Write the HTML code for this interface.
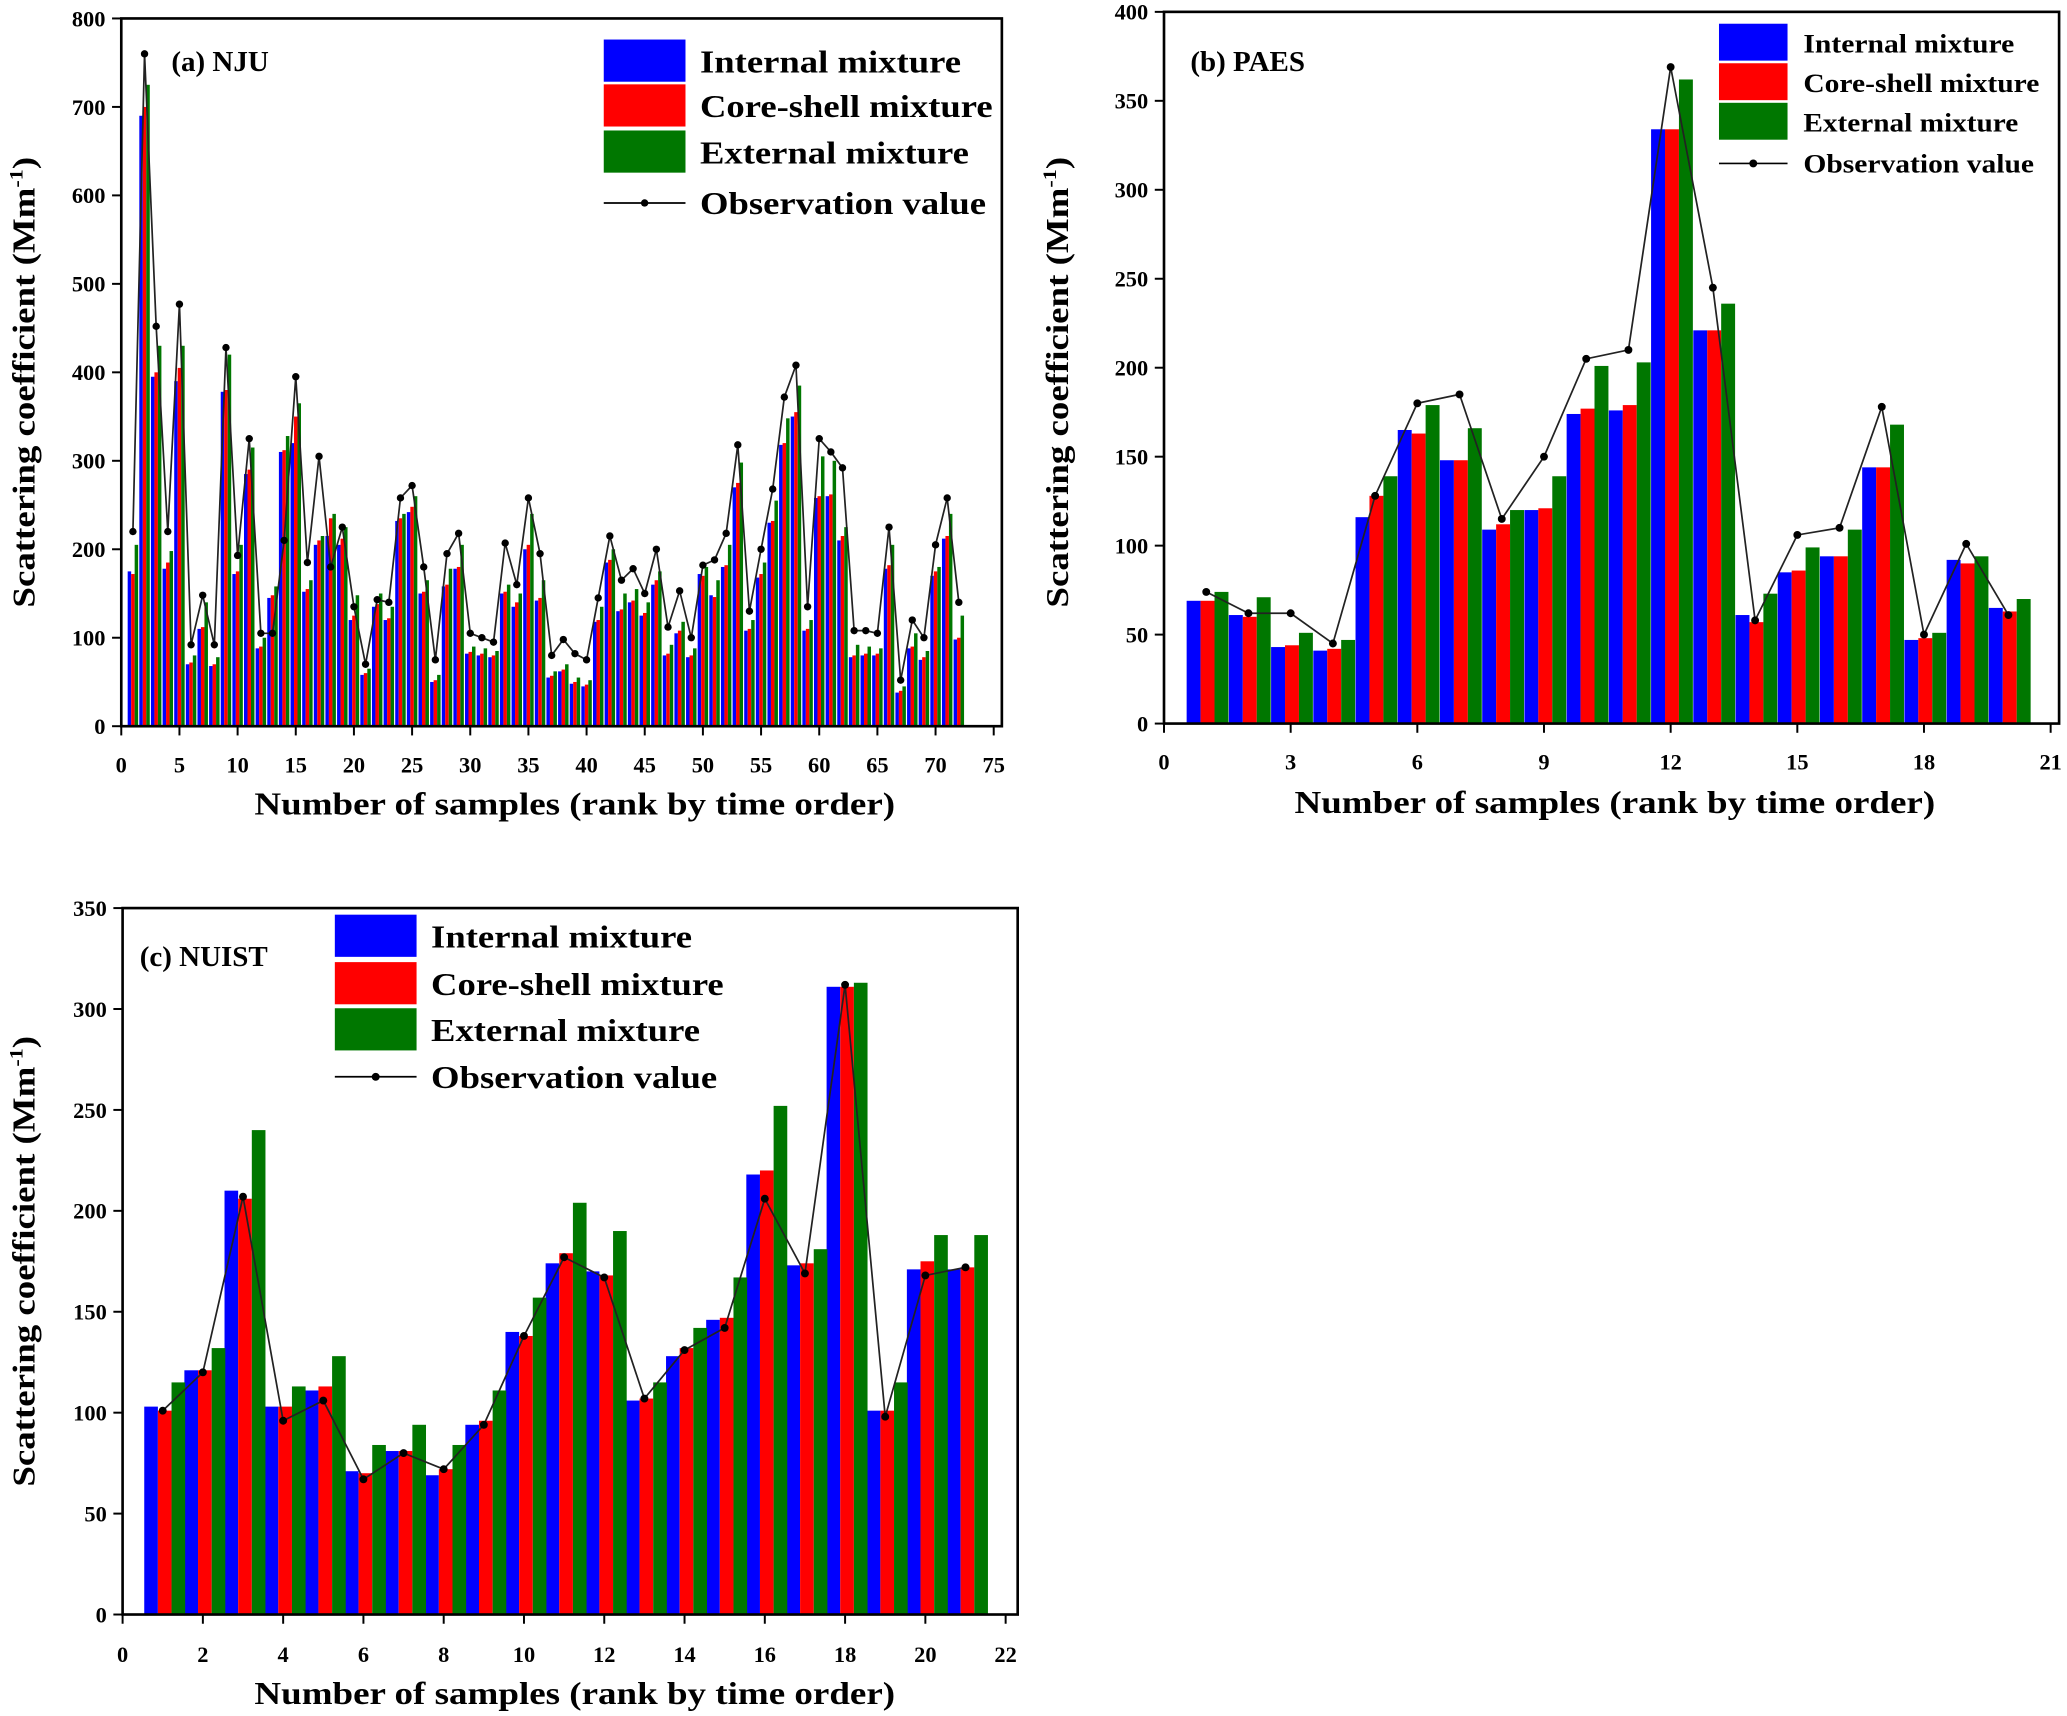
<!DOCTYPE html>
<html><head><meta charset="utf-8"><style>
html,body{margin:0;padding:0;background:#fff;}
svg{display:block;}
text{font-family:"Liberation Serif",serif;font-weight:bold;fill:#000;}
</style></head><body>
<svg id="fig" width="2067" height="1716" viewBox="0 0 1568 1302" preserveAspectRatio="none" xmlns="http://www.w3.org/2000/svg"></svg>
<script>
// Panel (a) NJU data
const aInternal=[175,690,395,178,390,70,110,68,378,172,285,88,145,310,320,152,205,215,205,120,58,135,120,232,242,150,50,158,178,82,80,78,150,135,200,142,55,62,48,45,118,185,130,140,125,160,80,105,78,172,148,180,270,108,168,230,318,350,108,258,260,210,78,80,80,178,38,88,75,170,212,98];
const aCore=[172,700,400,185,405,72,112,70,380,175,290,90,148,312,350,155,210,235,212,125,60,138,122,235,248,152,52,160,180,84,82,80,152,140,205,145,57,64,50,47,120,188,132,142,128,165,82,108,80,170,146,182,275,110,172,232,320,355,110,260,262,215,80,82,82,182,40,90,78,175,215,100];
const aExternal=[205,725,430,198,430,80,140,78,420,205,315,100,158,328,365,165,215,240,225,148,65,150,135,240,260,165,58,178,205,90,88,85,160,150,240,165,62,70,55,52,135,200,150,155,140,175,92,118,88,180,165,205,298,120,185,255,348,385,120,305,300,225,92,90,88,205,45,105,85,180,240,125];
const aObs=[220,760,452,220,477,92,148,92,428,193,325,105,105,210,395,185,305,180,225,135,70,143,140,258,272,180,75,195,218,105,100,95,207,160,258,195,80,98,82,75,145,215,165,178,150,200,112,153,100,182,188,218,318,130,200,268,372,408,135,325,310,292,108,108,105,225,52,120,100,205,258,140];
const aXTicks=[0,5,10,15,20,25,30,35,40,45,50,55,60,65,70,75];
const aYTicks=[0,100,200,300,400,500,600,700,800];
// Panel (b) PAES data
const bInternal=[69,61,43,41,116,165,148,109,120,174,176,334,221,61,85,94,144,47,92,65];
const bCore=[69,60,44,42,128,163,148,112,121,177,179,334,221,57,86,94,144,48,90,63];
const bExternal=[74,71,51,47,139,179,166,120,139,201,203,362,236,73,99,109,168,51,94,70];
const bObs=[74,62,62,45,128,180,185,115,150,205,210,369,245,58,106,110,178,50,101,61];
const bXTicks=[0,3,6,9,12,15,18,21];
const bYTicks=[0,50,100,150,200,250,300,350,400];
// Panel (c) NUIST data
const cInternal=[103,121,210,103,111,71,81,69,94,140,174,170,106,128,146,218,173,311,101,171,171];
const cCore=[101,121,206,103,113,70,81,72,96,138,179,168,107,132,147,220,174,311,101,175,172];
const cExternal=[115,132,240,113,128,84,94,84,111,157,204,190,115,142,167,252,181,313,115,188,188];
const cObs=[101,120,207,96,106,67,80,72,94,138,177,167,107,131,142,206,169,312,98,168,172];
const cXTicks=[0,2,4,6,8,10,12,14,16,18,20,22];
const cYTicks=[0,50,100,150,200,250,300,350];

const NS="http://www.w3.org/2000/svg";
const svg=document.getElementById('fig');
function mk(tag,attrs,parent){const e=document.createElementNS(NS,tag);for(const k in attrs)e.setAttribute(k,attrs[k]);(parent||svg).appendChild(e);return e;}

function panel(cfg){
  const g=mk('g',{});
  
  
  const sx=v=>cfg.x0+(v-cfg.xmin)/(cfg.xmax-cfg.xmin)*(cfg.x1-cfg.x0);
  const sy=v=>cfg.y0-(v-cfg.ymin)/(cfg.ymax-cfg.ymin)*(cfg.y0-cfg.y1);
  const unit=(cfg.x1-cfg.x0)/(cfg.xmax-cfg.xmin);
  const bw=unit*cfg.bw;
  const series=[[cfg.internal,'#0000ff','internal'],[cfg.core,'#ff0000','core-shell'],[cfg.external,'#007700','external']];
  series.forEach((s,si)=>{
    s[0].forEach((v,i)=>{
      const cx=sx(i+1)+(si-1)*bw+cfg.shift;
      const r=mk('rect',{x:cx-bw/2,y:sy(v),width:bw,height:sy(0)-sy(v),fill:s[1]},g);
      
      
    });
  });
  const pts=cfg.obs.map((v,i)=>sx(i+1)+','+sy(v)).join(' ');
  const pl=mk('polyline',{points:pts,fill:'none',stroke:'#222',"stroke-width":1.3},g);
  
  
  cfg.obs.forEach((v,i)=>{
    const c=mk('circle',{cx:sx(i+1),cy:sy(v),r:cfg.dot,fill:'#000'},g);
    
    
  });
  const fr=mk('rect',{x:cfg.x0,y:cfg.y1,width:cfg.x1-cfg.x0,height:cfg.y0-cfg.y1,fill:'none',stroke:'#000',"stroke-width":2},g);
  
  
  cfg.xticks.forEach(t=>{
    mk('line',{x1:sx(t),x2:sx(t),y1:cfg.y0,y2:cfg.y0+7,stroke:'#000',"stroke-width":1.5},g);
    const tx=mk('text',{x:sx(t),y:cfg.y0+cfg.xlab,"text-anchor":"middle","font-size":cfg.tf},g);
    tx.textContent=t;
    
    
  });
  cfg.yticks.forEach(t=>{
    mk('line',{x1:cfg.x0-7,x2:cfg.x0,y1:sy(t),y2:sy(t),stroke:'#000',"stroke-width":1.5},g);
    const tx=mk('text',{x:cfg.x0-12,y:sy(t)+cfg.tf*0.35,"text-anchor":"end","font-size":cfg.tf},g);
    tx.textContent=t;
    
    
  });
  const xt=mk('text',{x:cfg.xtx,y:cfg.xty,"text-anchor":"middle","font-size":cfg.af,textLength:486,lengthAdjust:"spacingAndGlyphs"},g);
  xt.textContent='Number of samples (rank by time order)';
  
  
  const yt=mk('text',{x:0,y:0,"text-anchor":"middle","font-size":cfg.af,textLength:342,lengthAdjust:"spacingAndGlyphs",transform:'translate('+cfg.ytx+','+cfg.yty+') rotate(-90)'},g);
  yt.innerHTML='Scattering coefficient (Mm<tspan dy="-9" font-size="'+(cfg.af*0.6)+'">-1</tspan><tspan dy="9">)</tspan>';
  
  
  const pt=mk('text',{x:cfg.px,y:cfg.py,"font-size":cfg.pf},g);
  pt.textContent=cfg.label;
  
  
  const L=cfg.leg;
  const names=['Internal mixture','Core-shell mixture','External mixture'];
  const cols=['#0000ff','#ff0000','#007700'];
  names.forEach((n,i)=>{
    const r=mk('rect',{x:L.x,y:L.ys[i],width:L.w,height:L.h,fill:cols[i]},g);
    
    
    const t=mk('text',{x:L.tx,y:L.ys[i]+L.h*0.78,"font-size":L.f,textLength:L.lens[i],lengthAdjust:"spacingAndGlyphs"},g);
    t.textContent=n;
    
    
  });
  mk('line',{x1:L.x,x2:L.x+L.w,y1:L.ly,y2:L.ly,stroke:'#000',"stroke-width":1.3},g);
  mk('circle',{cx:L.x+L.w/2,cy:L.ly,r:cfg.dot,fill:'#000'},g);
  const ot=mk('text',{x:L.tx,y:L.ly+L.f*0.35,"font-size":L.f,textLength:L.lens[3],lengthAdjust:"spacingAndGlyphs"},g);
  ot.textContent='Observation value';
  
  
}

panel({id:'nju',label:'(a) NJU',internal:aInternal,core:aCore,external:aExternal,obs:aObs,xticks:aXTicks,yticks:aYTicks,
  x0:92,x1:760,y0:551,y1:14,xmin:0,xmax:75.7,ymin:0,ymax:800,bw:0.3,shift:0,dot:2.8,tf:17,af:24,xlab:35,
  xtx:436,xty:618,ytx:26,yty:290,px:130,py:54,pf:22,
  leg:{x:458,w:62,h:32,ys:[30,64,99],ly:154,tx:531,f:24,lens:[198,222,204,217]}});
panel({id:'paes',label:'(b) PAES',internal:bInternal,core:bCore,external:bExternal,obs:bObs,xticks:bXTicks,yticks:bYTicks,
  x0:883,x1:1562,y0:549,y1:9,xmin:0,xmax:21.2,ymin:0,ymax:400,bw:0.33,shift:1,dot:3,tf:17,af:24,xlab:35,
  xtx:1225,xty:617,ytx:810,yty:290,px:903,py:54,pf:22,
  leg:{x:1304,w:52,h:28,ys:[18,48,78],ly:124,tx:1368,f:20,lens:[160,179,163,175]}});
panel({id:'nuist',label:'(c) NUIST',internal:cInternal,core:cCore,external:cExternal,obs:cObs,xticks:cXTicks,yticks:cYTicks,
  x0:93,x1:772,y0:1225,y1:689,xmin:0,xmax:22.3,ymin:0,ymax:350,bw:0.34,shift:1.5,dot:3,tf:17,af:24,xlab:36,
  xtx:436,xty:1293,ytx:26,yty:957,px:106,py:733,pf:22,
  leg:{x:254,w:62,h:32,ys:[694,730,765],ly:817,tx:327,f:24,lens:[198,222,204,217]}});
</script>
</body></html>
